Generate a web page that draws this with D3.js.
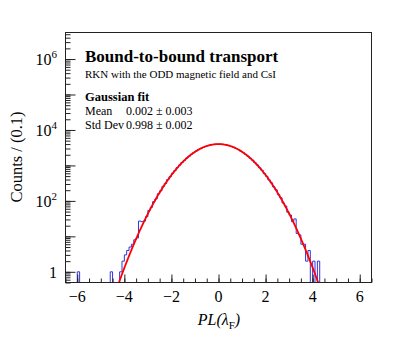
<!DOCTYPE html>
<html>
<head>
<meta charset="utf-8">
<script src="https://cdn.jsdelivr.net/npm/d3@7"></script>
<style>
  body { margin: 0; background: #fff; }
  svg text { font-family: "Liberation Serif", "Times New Roman", serif; fill: #000; }
</style>
</head>
<body>
<div id="chart"></div>
<script>
// histogram binning: 130 bins of width 0.1 from -6.5 to 6.5
const binStart = -6.5;
const binWidth = 0.1;
// counts per bin (row = 10 bins)
const counts = [
  0, 0, 0, 0, 0, 1, 0, 0, 0, 0,                                   // -6.5 .. -5.6
  0, 0, 0, 0, 0, 0, 0, 0, 0, 1,                                   // -5.5 .. -4.6
  0, 0, 0, 1, 2, 3, 4, 5, 6, 8,                                   // -4.5 .. -3.6
  9, 27, 26, 27, 36, 54, 66, 95, 114, 159,                        // -3.5 .. -2.6
  193, 258, 311, 401, 482, 602, 714, 870, 1015, 1207,             // -2.5 .. -1.6
  1388, 1611, 1819, 2066, 2290, 2549, 2771, 3020, 3222, 3420,     // -1.5 .. -0.6
  3612, 3745, 3870, 3940, 3978, 3990, 3951, 3862, 3760, 3598,     // -0.5 ..  0.4
  3431, 3236, 3004, 2790, 2531, 2305, 2052, 1834, 1596, 1402,     //  0.5 ..  1.4
  1193, 1030, 855, 727, 589, 494, 388, 322, 247, 204,             //  1.5 ..  2.4
  150, 123, 87, 72, 48, 40, 26, 31, 12, 11,                       //  2.5 ..  3.4
  6, 6, 2, 4, 0, 2, 0, 2, 0, 0,                                   //  3.5 ..  4.4
  0, 0, 0, 0, 0, 0, 0, 0, 0, 0,                                   //  4.5 ..  5.4
  0, 0, 0, 0, 0, 0, 0, 0, 0, 0                                    //  5.5 ..  6.4
];

// gaussian fit parameters (from the legend)
const fitMean = 0.002;
const fitStd = 0.998;
const nEntries = 100000;

const xTickLabels = [-6, -4, -2, 0, 2, 4, 6];
const yTickLabels = [{v: 1, e: null}, {v: 1e2, e: "2"}, {v: 1e4, e: "4"}, {v: 1e6, e: "6"}];

const W = 413, H = 339;
const frame = {left: 65.5, right: 371.5, top: 32.5, bottom: 282.5};

const svg = d3.select("#chart").append("svg")
  .attr("width", W).attr("height", H);

const x = d3.scaleLinear().domain([-6.5, 6.5]).range([frame.left, frame.right]);
const y = d3.scaleLog().domain([0.5, 5.6e6]).range([frame.bottom, frame.top]);

svg.append("defs").append("clipPath").attr("id", "clip")
  .append("rect")
  .attr("x", frame.left).attr("y", frame.top)
  .attr("width", frame.right - frame.left).attr("height", frame.bottom - frame.top);

// histogram as step outline, empty bins sit on the bottom
const bins = counts.map((c, i) => ({x0: binStart + i * binWidth, x1: binStart + (i + 1) * binWidth, c: c}));
let pts = [[x(bins[0].x0), frame.bottom]];
bins.forEach(b => {
  const yy = b.c > 0 ? y(b.c) : frame.bottom;
  pts.push([x(b.x0), yy]);
  pts.push([x(b.x1), yy]);
});
pts.push([x(bins[bins.length - 1].x1), frame.bottom]);

svg.append("path")
  .attr("clip-path", "url(#clip)")
  .attr("d", d3.line()(pts))
  .attr("fill", "none")
  .attr("stroke", "#3434d8")
  .attr("stroke-width", 1);

// fit curve
const gauss = v => nEntries * binWidth / (fitStd * Math.sqrt(2 * Math.PI)) * Math.exp(-0.5 * ((v - fitMean) / fitStd) ** 2);
const fitPts = d3.range(-4.6, 4.6001, 0.02).map(v => [v, gauss(v)]);
svg.append("path")
  .attr("clip-path", "url(#clip)")
  .attr("d", d3.line().x(d => x(d[0])).y(d => y(d[1]))(fitPts))
  .attr("fill", "none")
  .attr("stroke", "#ff0000")
  .attr("stroke-width", 1.8);

// frame
svg.append("rect")
  .attr("x", frame.left).attr("y", frame.top)
  .attr("width", frame.right - frame.left).attr("height", frame.bottom - frame.top)
  .attr("fill", "none").attr("stroke", "#222").attr("stroke-width", 1);

// x axis ticks (inward)
const xMinor = d3.range(-6.5, 6.5001, 0.5);
svg.append("g").attr("transform", `translate(0,${frame.bottom})`)
  .call(d3.axisBottom(x).tickValues(xMinor).tickSize(-4).tickFormat(""))
  .call(g => g.select(".domain").remove());
svg.append("g").attr("transform", `translate(0,${frame.bottom})`)
  .call(d3.axisBottom(x).tickValues(xTickLabels).tickSize(-8).tickFormat(""))
  .call(g => g.select(".domain").remove());
svg.selectAll(".tick line").attr("stroke", "#222");

svg.append("g").selectAll("text").data(xTickLabels).enter().append("text")
  .attr("x", d => x(d))
  .attr("y", 302)
  .attr("text-anchor", "middle")
  .style("font-size", "16px")
  .text(d => d < 0 ? "\u2212" + Math.abs(d) : d);

// y axis ticks (inward)
const yMinor = [];
for (let e = -1; e <= 6; e++) for (let m = 1; m <= 9; m++) {
  const v = m * Math.pow(10, e);
  if (v >= 0.5 && v <= 5.6e6) yMinor.push(v);
}
const yMajor = [1, 10, 100, 1e3, 1e4, 1e5, 1e6];
svg.append("g").attr("transform", `translate(${frame.left},0)`)
  .call(d3.axisLeft(y).tickValues(yMinor).tickSize(-5).tickFormat(""))
  .call(g => g.select(".domain").remove());
svg.append("g").attr("transform", `translate(${frame.left},0)`)
  .call(d3.axisLeft(y).tickValues(yMajor).tickSize(-10).tickFormat(""))
  .call(g => g.select(".domain").remove());
svg.selectAll(".tick line").attr("stroke", "#222");

const yl = svg.append("g").selectAll("text").data(yTickLabels).enter().append("text")
  .attr("x", 57)
  .attr("y", d => y(d.v) + 6)
  .attr("text-anchor", "end")
  .style("font-size", "16px");
yl.append("tspan").text(d => d.e ? "10" : "1");
yl.filter(d => d.e).append("tspan")
  .attr("dy", -7).style("font-size", "11px").text(d => d.e);

// axis titles
const xt = svg.append("text")
  .attr("x", 219).attr("y", 325)
  .attr("text-anchor", "middle")
  .style("font-size", "16px");
xt.append("tspan").style("font-style", "italic").text("PL(\u03bb");
xt.append("tspan").attr("dy", 4).style("font-size", "11px").text("F");
xt.append("tspan").attr("dy", -4).style("font-style", "italic").text(")");

svg.append("text")
  .attr("transform", "translate(22,157) rotate(-90)")
  .attr("text-anchor", "middle")
  .style("font-size", "16.5px")
  .text("Counts / (0.1)");

// annotation
const tx = 85;
svg.append("text").attr("x", tx).attr("y", 61.5)
  .style("font-size", "17px").style("font-weight", "bold")
  .text("Bound-to-bound transport");
svg.append("text").attr("x", tx).attr("y", 78)
  .style("font-size", "11px")
  .text("RKN with the ODD magnetic field and CsI");
svg.append("text").attr("x", tx).attr("y", 101)
  .style("font-size", "12.5px").style("font-weight", "bold")
  .text("Gaussian fit");
const statRows = [["Mean", "0.002 \u00b1 0.003"], ["Std Dev", "0.998 \u00b1 0.002"]];
statRows.forEach((r, i) => {
  svg.append("text").attr("x", tx).attr("y", 115 + i * 14).style("font-size", "12px").text(r[0]);
  svg.append("text").attr("x", 126).attr("y", 115 + i * 14).style("font-size", "12px").text(r[1]);
});
</script>
</body>
</html>
